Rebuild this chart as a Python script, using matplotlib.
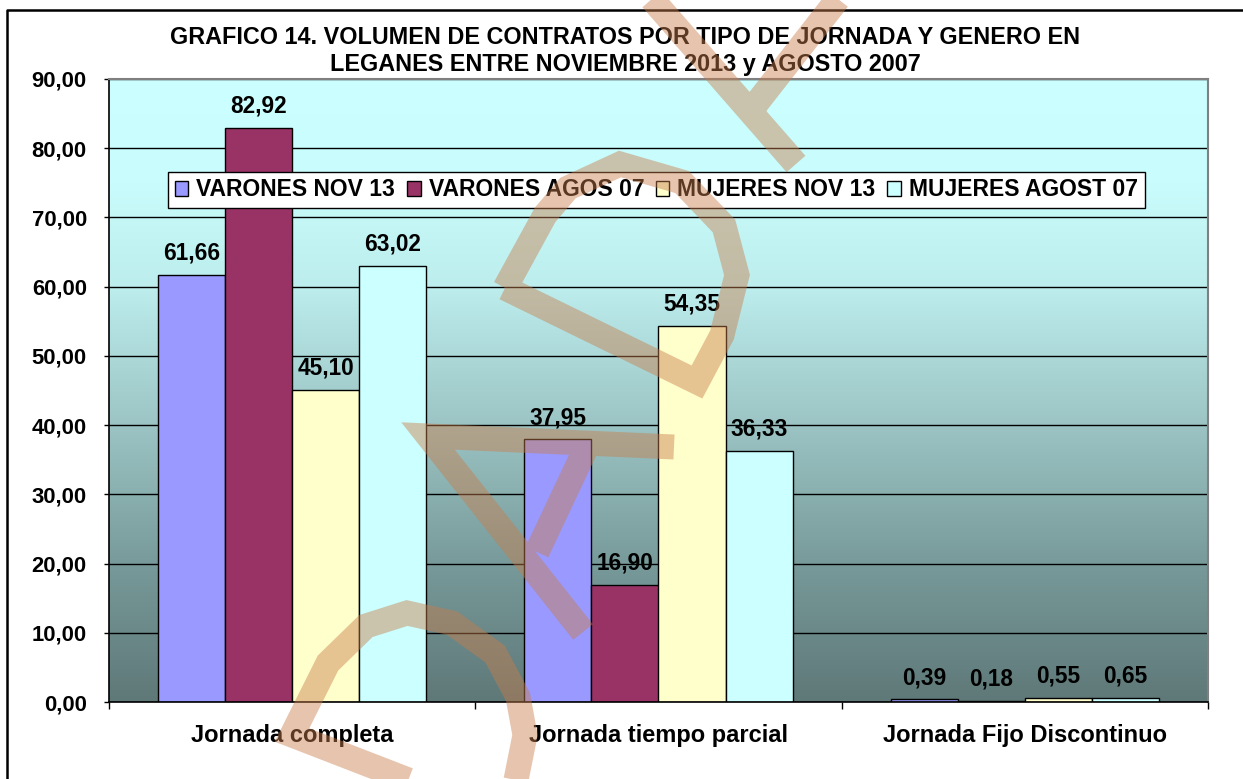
import numpy as np
import matplotlib
matplotlib.use("Agg")
import matplotlib.pyplot as plt
from matplotlib.colors import to_rgb
from matplotlib.lines import Line2D
from matplotlib.transforms import Affine2D

plt.rcParams['font.family'] = ['Liberation Sans', 'DejaVu Sans']
plt.rcParams['font.weight'] = 'bold'

# data
categories = ["Jornada completa", "Jornada tiempo parcial", "Jornada Fijo Discontinuo"]
series_names = ["VARONES NOV 13", "VARONES AGOS 07", "MUJERES NOV 13", "MUJERES AGOST 07"]
varones_nov13 = [61.66, 37.95, 0.39]
varones_agos07 = [82.92, 16.90, 0.18]
mujeres_nov13 = [45.10, 54.35, 0.55]
mujeres_agost07 = [63.02, 36.33, 0.65]
y_ticks = [0, 10, 20, 30, 40, 50, 60, 70, 80, 90]
title_1 = "GRAFICO 14. VOLUMEN DE CONTRATOS POR TIPO DE JORNADA Y GENERO EN"
title_2 = "LEGANES ENTRE NOVIEMBRE 2013 y AGOSTO 2007"

series = [varones_nov13, varones_agos07, mujeres_nov13, mujeres_agost07]
colors = ["#9999FF", "#993366", "#FFFFCC", "#CCFFFF"]

# background gradient of the plot area (value level -> colour)
grad_levels = [0, 20, 40, 60, 75, 90]
grad_colors = ["#5F7878", "#789A9A", "#9CC4C4", "#BDEDED", "#C9FCFC", "#CCFFFF"]


def fmt(v):
    return f"{v:.2f}".replace(".", ",")


W, H = 1243, 779
fig = plt.figure(figsize=(W / 100, H / 100), dpi=100)
ax = fig.add_axes([109 / W, 1 - 702 / H, (1208 - 109) / W, (702 - 79) / H])

ymax = y_ticks[-1]
levels = np.linspace(0, ymax, 300)
rgb = np.array([to_rgb(c) for c in grad_colors])
img = np.stack([np.interp(levels, grad_levels, rgb[:, i]) for i in range(3)], axis=-1)
ax.imshow(img[:, None, :], extent=[-0.5, len(categories) - 0.5, 0, ymax],
          origin="lower", aspect="auto", zorder=0)

x = np.arange(len(categories))
width = 0.183
for i, (vals, name, col) in enumerate(zip(series, series_names, colors)):
    pos = x + (i - 1.5) * width
    ax.bar(pos, vals, width, color=col, edgecolor="black", linewidth=1.0,
           label=name, zorder=2)
    for px, v in zip(pos, vals):
        ax.annotate(fmt(v), (px, v), xytext=(0, 11), textcoords="offset points",
                    ha="center", va="baseline", fontsize=16.3, fontweight="bold",
                    zorder=3)

ax.set_xlim(-0.5, len(categories) - 0.5)
ax.set_ylim(0, ymax)
ax.set_yticks(y_ticks)
ax.set_yticklabels([fmt(t) for t in y_ticks])
ax.set_xticks(x)
ax.set_xticklabels(categories)
ax.set_xticks(np.arange(len(categories) + 1) - 0.5, minor=True)
ax.tick_params(axis="x", which="major", length=0, pad=15.5, labelsize=17)
ax.tick_params(axis="x", which="minor", length=5, width=1, direction="out")
ax.tick_params(axis="y", length=3.5, width=1, direction="out", pad=12.5,
               labelsize=15.8)
ax.grid(axis="y", color="black", linewidth=1, zorder=1)
ax.set_axisbelow(True)
for s in ["top", "right"]:
    ax.spines[s].set_color("#808080")
    ax.spines[s].set_linewidth(1.5)
for s in ["left", "bottom"]:
    ax.spines[s].set_color("black")
    ax.spines[s].set_linewidth(1.2)

leg = ax.legend(loc="center", bbox_to_anchor=(0.498, 0.822), ncol=4,
                fontsize=16.5, frameon=True, fancybox=False, framealpha=1,
                edgecolor="black", borderpad=0.3, handlelength=0.6,
                handleheight=0.65, handletextpad=0.35, columnspacing=0.5,
                borderaxespad=0)
leg.get_frame().set_linewidth(1.0)
leg.set_zorder(4)

fig.text(625 / W, 1 - 37 / H, title_1, ha="center", va="center", fontsize=16.8,
         fontweight="bold")
fig.text(625 / W, 1 - 65 / H, title_2, ha="center", va="center", fontsize=16.8,
         fontweight="bold")

# pixel coordinates (y down) -> figure
px = Affine2D().scale(1 / W, -1 / H).translate(0, 1) + fig.transFigure

# chart border (only top and left edges are visible)
fig.add_artist(Line2D([7, 7, W + 5], [H + 5, 10, 10], transform=px,
                      color="black", linewidth=1.8))

# watermark strokes
watermark = [
    [(644, -10), (796, 164)],
    [(845, -10), (756, 104)],
    [(505, 288), (545, 215), (568, 188), (620, 164), (682, 182), (724, 226),
     (737, 275), (722, 335), (697, 382), (505, 288)],
    [(674, 447), (428, 436), (583, 632)],
    [(586, 448), (537, 552)],
    [(460, 800), (292, 735), (328, 663), (366, 626), (407, 613), (452, 623),
     (495, 654), (518, 697), (525, 735), (512, 800)],
]
wx, wy = [], []
for stroke in watermark:
    wx += [p[0] for p in stroke] + [np.nan]
    wy += [p[1] for p in stroke] + [np.nan]
fig.add_artist(Line2D(wx, wy, transform=px, color=(200 / 255, 125 / 255, 75 / 255),
                      alpha=0.45, linewidth=18, solid_joinstyle="miter",
                      solid_capstyle="butt", zorder=10))

fig.savefig("out.png", dpi=100)
